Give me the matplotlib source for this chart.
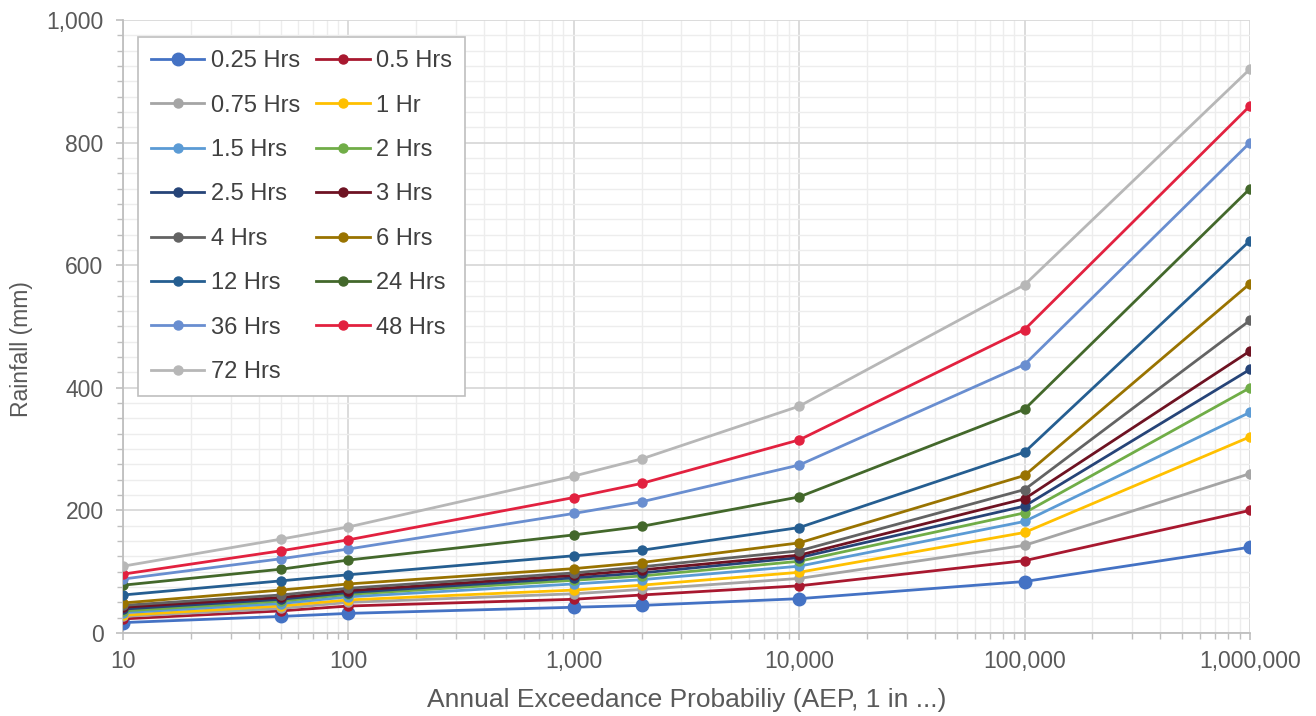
import numpy as np
import matplotlib.pyplot as plt
from matplotlib.ticker import FuncFormatter, MultipleLocator, LogLocator

plt.rcParams['font.family'] = ['Liberation Sans', 'DejaVu Sans']

# AEP (1 in ...)
aep = [10, 50, 100, 1000, 2000, 10000, 100000, 1000000]

durations = ['0.25 Hrs', '0.5 Hrs', '0.75 Hrs', '1 Hr', '1.5 Hrs', '2 Hrs', '2.5 Hrs',
             '3 Hrs', '4 Hrs', '6 Hrs', '12 Hrs', '24 Hrs', '36 Hrs', '48 Hrs', '72 Hrs']

# rainfall depths (mm)
r_025 = [17, 27, 32, 42, 45, 56, 84, 140]
r_05 = [23, 36, 44, 55, 62, 77, 118, 200]
r_075 = [27, 40, 50, 64, 71, 89, 143, 260]
r_1 = [29, 44, 54, 70, 78, 99, 164, 320]
r_15 = [33, 48, 59, 80, 87, 109, 182, 360]
r_2 = [36, 52, 63, 86, 93, 117, 196, 400]
r_25 = [39, 55, 66, 90, 98, 123, 207, 430]
r_3 = [42, 58, 69, 94, 103, 127, 219, 460]
r_4 = [45, 62, 73, 98, 108, 134, 234, 510]
r_6 = [49, 70, 80, 105, 115, 147, 257, 570]
r_12 = [62, 85, 95, 126, 135, 172, 295, 640]
r_24 = [78, 104, 119, 160, 174, 222, 365, 725]
r_36 = [88, 121, 137, 195, 214, 274, 438, 800]
r_48 = [96, 134, 152, 221, 244, 315, 495, 860]
r_72 = [109, 153, 173, 256, 284, 370, 568, 920]

series = [r_025, r_05, r_075, r_1, r_15, r_2, r_25, r_3, r_4, r_6, r_12, r_24, r_36, r_48, r_72]
colors = ['#4472C4', '#A8182F', '#A5A5A5', '#FFC000', '#5B9BD5', '#70AD47', '#264478',
          '#6E1222', '#636363', '#997300', '#255E91', '#43682B', '#698ED0', '#E2213F', '#B7B7B7']

fig = plt.figure(figsize=(13.16, 7.16), dpi=100)
ax = fig.add_axes([123 / 1316, 83 / 716, 1127 / 1316, 613 / 716])

handles = []
for i, (lab, vals, c) in enumerate(zip(durations, series, colors)):
    ms = 9 if i == 0 else 6.5
    h, = ax.plot(aep, vals, color=c, lw=2, marker='o', ms=ms, label=lab, zorder=3 + i)
    handles.append(h)

ax.set_xscale('log')
ax.set_xlim(10, 1000000)
ax.set_ylim(0, 1000)

ax.yaxis.set_major_locator(MultipleLocator(200))
ax.yaxis.set_minor_locator(MultipleLocator(25))
ax.xaxis.set_major_locator(LogLocator(base=10, numticks=10))
ax.xaxis.set_minor_locator(LogLocator(base=10, subs=np.arange(2, 10), numticks=20))
fmt = FuncFormatter(lambda v, p: f'{v:,.0f}')
ax.xaxis.set_major_formatter(fmt)
ax.yaxis.set_major_formatter(fmt)

ax.grid(True, which='major', color='#d9d9d9', lw=1.3, zorder=0)
ax.grid(True, which='minor', color='#ededed', lw=1.0, zorder=0)
ax.set_axisbelow(True)

for s in ['top', 'right']:
    ax.spines[s].set_visible(False)
for s in ['left', 'bottom']:
    ax.spines[s].set_color('#bfbfbf')
    ax.spines[s].set_linewidth(1.3)

ax.tick_params(which='both', colors='#bfbfbf', labelcolor='#595959', labelsize=16.5)
ax.tick_params(which='major', length=5, width=1.2)
ax.tick_params(which='minor', length=4, width=1.0)
ax.tick_params(axis='x', which='major', pad=7)
ax.tick_params(axis='y', which='major', pad=9)

ax.set_xlabel('Annual Exceedance Probabiliy (AEP, 1 in ...)', fontsize=19, color='#595959', labelpad=11)
ax.set_ylabel('Rainfall (mm)', fontsize=16.5, color='#595959')
ax.yaxis.set_label_coords(-0.08, 0.463)

# legend filled row by row like the original
order = list(range(0, 15, 2)) + list(range(1, 15, 2))
leg = ax.legend([handles[i] for i in order], [durations[i] for i in order],
                ncol=2, loc='upper left', bbox_to_anchor=(0.0133, 0.972), borderaxespad=0,
                fontsize=17, frameon=True, fancybox=False, edgecolor='#bfbfbf',
                framealpha=1, labelspacing=0.95, columnspacing=0.7, handlelength=2.25,
                handletextpad=0.28, borderpad=0.55)
leg.get_frame().set_linewidth(1.2)
for t in leg.get_texts():
    t.set_color('#404040')

fig.savefig('out.png', dpi=100)
